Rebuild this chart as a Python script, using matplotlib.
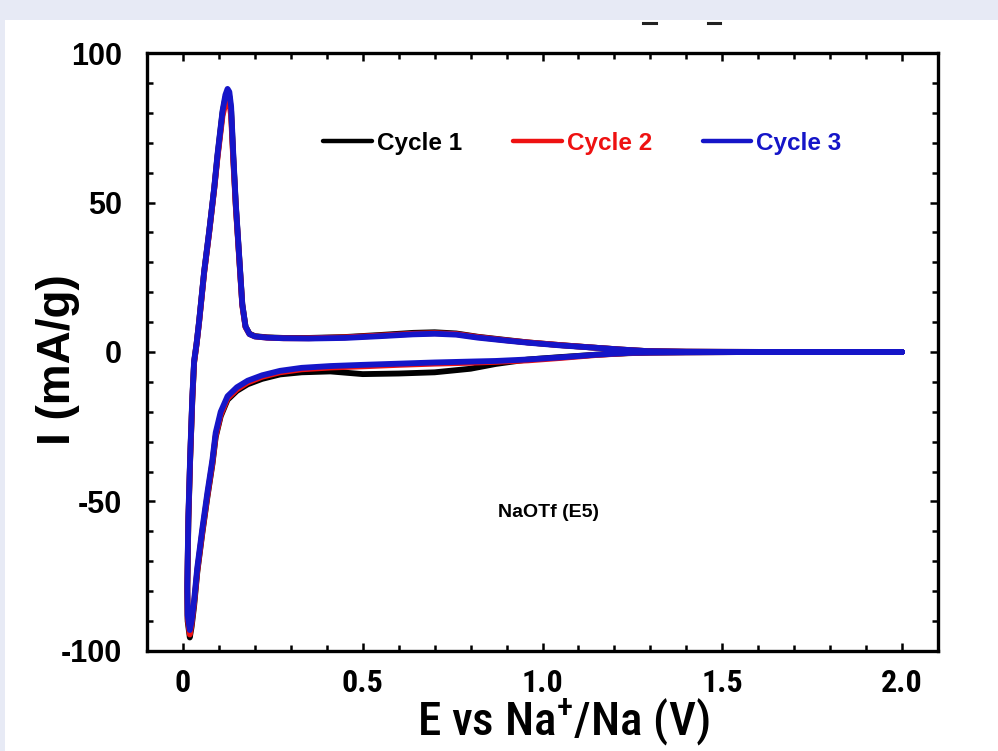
import matplotlib
matplotlib.use("Agg")
import matplotlib.pyplot as plt
from matplotlib import font_manager
from matplotlib.patches import Rectangle
from matplotlib.lines import Line2D
from matplotlib.ticker import MultipleLocator

# cathodic sweep (2.0 V -> 0.02 V)
E_down = [2.0, 1.8, 1.6, 1.5, 1.4, 1.3, 1.24, 1.15, 1.05, 0.96, 0.87, 0.8, 0.7, 0.6, 0.5,
          0.41, 0.33, 0.27, 0.22, 0.18, 0.15, 0.124, 0.105, 0.091, 0.082, 0.068, 0.054,
          0.04, 0.031, 0.024, 0.019]
I_down_c1 = [0, 0, 0, -0.05, -0.1, -0.2, -0.4, -0.9, -1.7, -2.5, -4.0, -5.6, -6.8, -7.2, -7.4,
             -6.5, -6.8, -7.5, -9.0, -10.8, -13.0, -16.0, -21.5, -28.5, -37.5, -48.5, -60.5,
             -73.5, -85, -92, -95.5]
I_down_c2 = [0, 0, 0, -0.05, -0.1, -0.2, -0.35, -1.0, -2.0, -2.8, -3.3, -3.6, -3.9, -4.3, -4.8,
             -5.2, -5.8, -6.8, -8.3, -10.2, -12.5, -15.5, -21, -28, -37, -48, -60,
             -73, -84, -91, -94.5]
I_down_c3 = [0, 0, 0, -0.05, -0.1, -0.2, -0.3, -0.9, -1.8, -2.5, -3.0, -3.2, -3.5, -3.9, -4.3,
             -4.7, -5.3, -6.3, -7.8, -9.6, -11.8, -14.8, -20, -27, -36, -47, -59,
             -72, -83, -90, -93]

# anodic sweep (0.02 V -> 2.0 V)
E_up = [0.019, 0.013, 0.012, 0.015, 0.02, 0.026, 0.031, 0.038, 0.045, 0.059, 0.073, 0.087,
        0.096, 0.11, 0.118, 0.124, 0.129, 0.134, 0.14, 0.147, 0.156, 0.165, 0.174, 0.185,
        0.2, 0.234, 0.28, 0.35, 0.45, 0.55, 0.64, 0.7, 0.76, 0.82, 0.9, 0.96, 1.05, 1.15,
        1.22, 1.29, 1.4, 1.5, 1.7, 1.9, 2.0]
I_up_c1 = [-95.5, -90, -80, -57, -36, -16, -3.5, 2.8, 10.2, 26.8, 40.2, 54.8,
           65.5, 80, 85, 86.5, 85.5, 80.5, 65, 49, 32.5, 16, 8.5, 6.1,
           5.3, 4.9, 4.7, 4.7, 5.0, 5.7, 6.4, 6.6, 6.2, 5.1, 4.0, 3.2, 2.3, 1.4,
           0.8, 0.3, 0.1, 0.05, 0, 0, 0]
I_up_c2 = [-94.5, -89, -79, -56, -36, -16, -3.5, 2.8, 10, 26.5, 40, 54.5,
           65, 79, 83, 84, 83.5, 79, 64, 48.5, 32, 15.5, 8.3, 6,
           5.2, 4.8, 4.6, 4.6, 4.9, 5.5, 6.1, 6.3, 6.0, 5.0, 3.9, 3.2, 2.3, 1.4,
           0.8, 0.3, 0.1, 0.05, 0, 0, 0]
I_up_c3 = [-93, -88, -78, -55, -35, -15, -3, 3, 10.4, 27, 40.5, 55,
           66, 80.6, 86, 88, 87, 82, 66, 49.5, 32.8, 16, 8.5, 6,
           5.2, 4.8, 4.6, 4.5, 4.7, 5.3, 5.9, 6.1, 5.8, 4.8, 3.8, 3.1, 2.2, 1.4,
           0.8, 0.3, 0.1, 0.05, 0, 0, 0]

labels = ["Cycle 1", "Cycle 2", "Cycle 3"]
colors = ["black", "#ee1111", "#1515c8"]
x_ticks = [0, 0.5, 1.0, 1.5, 2.0]
x_ticklabels = ["0", "0.5", "1.0", "1.5", "2.0"]
y_ticks = [-100, -50, 0, 50, 100]

fonts = font_manager.fontManager.ttflist
names = {f.name for f in fonts}
bold_names = {f.name for f in fonts if f.weight in (700, "bold")}
wide = "Liberation Sans" if "Liberation Sans" in names else "DejaVu Sans"
narrow = wide
for cand in ["Liberation Sans Narrow", "Arial Narrow", "Roboto Condensed",
             "PT Sans Narrow", "Archivo Narrow", "Barlow Condensed"]:
    if cand in bold_names:
        narrow = cand
        break

plt.rcParams["font.family"] = [wide, "DejaVu Sans"]
plt.rcParams["mathtext.default"] = "regular"

fig = plt.figure(figsize=(9.98, 7.51), dpi=100, facecolor="#e7eaf5")
fig.add_artist(Rectangle((0.005, 0), 0.995, 0.9734, transform=fig.transFigure,
                         facecolor="white", edgecolor="none", zorder=0))
# cropped bits of something above the figure
fig.add_artist(Line2D([0.644, 0.657], [0.970, 0.970], transform=fig.transFigure,
                      color="#222222", lw=2.2))
fig.add_artist(Line2D([0.709, 0.721], [0.970, 0.970], transform=fig.transFigure,
                      color="#222222", lw=2.2))

ax = fig.add_axes([0.1473, 0.1332, 0.7926, 0.7962])
ax.set_facecolor("none")

cycles = [(I_down_c1, I_up_c1), (I_down_c2, I_up_c2), (I_down_c3, I_up_c3)]
for (idn, iup), lab, c in zip(cycles, labels, colors):
    ax.plot(E_down + E_up, idn + iup, color=c, lw=4.2, label=lab,
            solid_joinstyle="round", solid_capstyle="round")

ax.set_xlim(-0.1, 2.1)
ax.set_ylim(-100, 100)
ax.set_xticks(x_ticks)
ax.set_xticklabels(x_ticklabels, fontfamily=narrow, fontweight="bold", fontsize=23)
ax.set_yticks(y_ticks)
ax.set_yticklabels([str(v) for v in y_ticks], fontweight="bold", fontsize=22)
ax.xaxis.set_minor_locator(MultipleLocator(0.1))
ax.yaxis.set_minor_locator(MultipleLocator(10))
ax.tick_params(which="both", direction="in", top=True, right=True, width=1.8)
ax.tick_params(which="major", length=6)
ax.tick_params(which="minor", length=4.5)
ax.tick_params(axis="x", which="major", pad=12)
ax.tick_params(axis="y", which="major", pad=18)
for s in ax.spines.values():
    s.set_linewidth(2.4)

ax.set_xlabel("E vs Na$^{+}$/Na (V)", fontfamily=narrow, fontweight="medium", fontsize=34)
ax.xaxis.set_label_coords(0.526, -0.118)
ax.xaxis.label.set_va("center")
ax.set_ylabel("I (mA/g)", fontweight="bold", fontsize=33)
ax.yaxis.set_label_coords(-0.1125, 0.487)
ax.yaxis.label.set_va("center")

ax.text(0.875, -53.8, "NaOTf (E5)", fontsize=14, fontweight="bold", va="center")

leg = ax.legend(ncol=3, loc="center", bbox_to_anchor=(0.5506, 0.8495), frameon=False,
                handlelength=2.0, handletextpad=0.2, columnspacing=2.1,
                labelcolor="linecolor", prop={"weight": "bold", "size": 17.5})
for h in leg.legend_handles:
    h.set_linewidth(3.2)

fig.savefig("out.png", dpi=100, facecolor=fig.get_facecolor())
